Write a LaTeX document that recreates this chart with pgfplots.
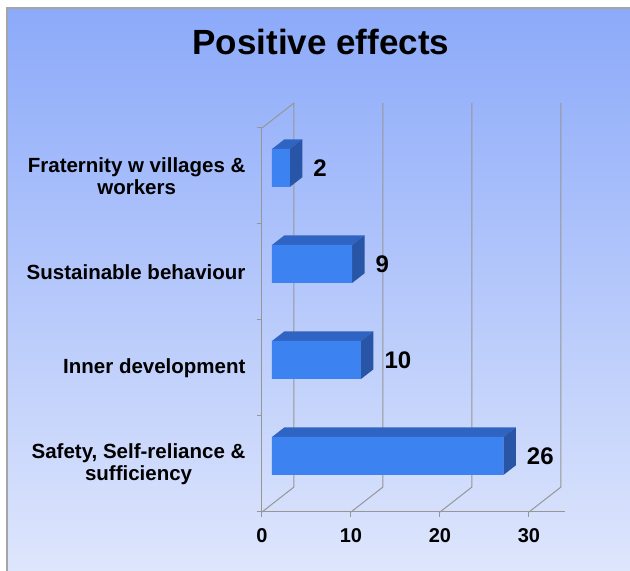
\documentclass[border=0pt]{standalone}
\usepackage{fontspec}
\setmainfont{Liberation Sans}
\usepackage{pgfplots}
\pgfplotsset{compat=1.18}
\definecolor{bgtop}{RGB}{140,170,250}
\definecolor{bgbot}{RGB}{222,230,252}
\definecolor{bordc}{RGB}{165,165,165}
\definecolor{gridc}{RGB}{150,150,150}
\definecolor{frontc}{RGB}{60,130,240}
\definecolor{topc}{RGB}{48,100,195}
\definecolor{sidec}{RGB}{40,85,165}
\begin{document}
\begin{tikzpicture}[x=1pt,y=1pt]
\path[use as bounding box] (-262,-59) rectangle (368,512);
\fill[white] (-262,-59) rectangle (368,512);
\shade[top color=bgtop,bottom color=bgbot] (-255,-59) rectangle (368,504);
\draw[bordc,line width=2pt] (-255,-59) -- (-255,504) -- (368,504);
\node[font=\fontsize{35}{40}\selectfont\bfseries, anchor=base] at (59,457) {Positive effects};

\begin{axis}[
  at={(0pt,0pt)}, anchor=south west,
  x=8.9pt, y=96pt,
  xmin=0, xmax=34.04, ymin=0, ymax=4,
  axis x line*=bottom, axis y line*=left,
  axis line style={gridc, line width=1pt},
  tick align=outside, major tick length=5pt,
  tick style={gridc, line width=1pt},
  xtick={0,10,20,30},
  ytick={0,1,2,3,4}, yticklabels={},
  extra y ticks={0.5,1.5,2.5,3.5},
  extra y tick labels={{Safety, Self-reliance \&\\sufficiency},{Inner development},{Sustainable behaviour},{Fraternity w villages \&\\workers}},
  extra y tick style={major tick length=0pt},
  yticklabel style={align=center, font=\fontsize{20.5}{21.5}\selectfont\bfseries, xshift=-13pt, text=black},
  xticklabel style={font=\fontsize{20}{22}\selectfont\bfseries, yshift=-8pt, text=black},
  /pgf/number format/assume math mode=true,
  clip=false,
]
\pgfplotsinvokeforeach{0,10,20,30}{
  \draw[gridc, line width=1pt] (axis cs:#1,0) -- ++(32pt,25pt) -- ++(0pt,384pt);
}
\draw[gridc, line width=1pt] (axis cs:0,4) -- ++(32pt,25pt);
\end{axis}

\begin{axis}[
  at={(10pt,8pt)}, anchor=south west,
  x=8.9pt, y=96pt,
  xmin=0, xmax=34.04, ymin=0, ymax=4,
  hide axis, clip=false,
]
% top faces
\addplot[fill=topc, draw=none] coordinates {(0,0.698) (26,0.698) (27.40,0.799) (1.40,0.799)};
\addplot[fill=topc, draw=none] coordinates {(0,1.698) (10,1.698) (11.40,1.799) (1.40,1.799)};
\addplot[fill=topc, draw=none] coordinates {(0,2.698) (9,2.698) (10.40,2.799) (1.40,2.799)};
\addplot[fill=topc, draw=none] coordinates {(0,3.698) (2,3.698) (3.40,3.799) (1.40,3.799)};
% side faces
\addplot[fill=sidec, draw=none] coordinates {(26,0.302) (27.40,0.403) (27.40,0.799) (26,0.698)};
\addplot[fill=sidec, draw=none] coordinates {(10,1.302) (11.40,1.403) (11.40,1.799) (10,1.698)};
\addplot[fill=sidec, draw=none] coordinates {(9,2.302) (10.40,2.403) (10.40,2.799) (9,2.698)};
\addplot[fill=sidec, draw=none] coordinates {(2,3.302) (3.40,3.403) (3.40,3.799) (2,3.698)};
% front faces
\addplot[xbar, bar width=38pt, fill=frontc, draw=none,
  nodes near coords, nodes near coords align={horizontal},
  every node near coord/.append style={font=\fontsize{24}{26}\selectfont\bfseries, text=black, anchor=west, xshift=20pt},
  /pgf/number format/assume math mode=true]
  coordinates {(26,0.5) (10,1.5) (9,2.5) (2,3.5)};
\end{axis}
\end{tikzpicture}
\end{document}
